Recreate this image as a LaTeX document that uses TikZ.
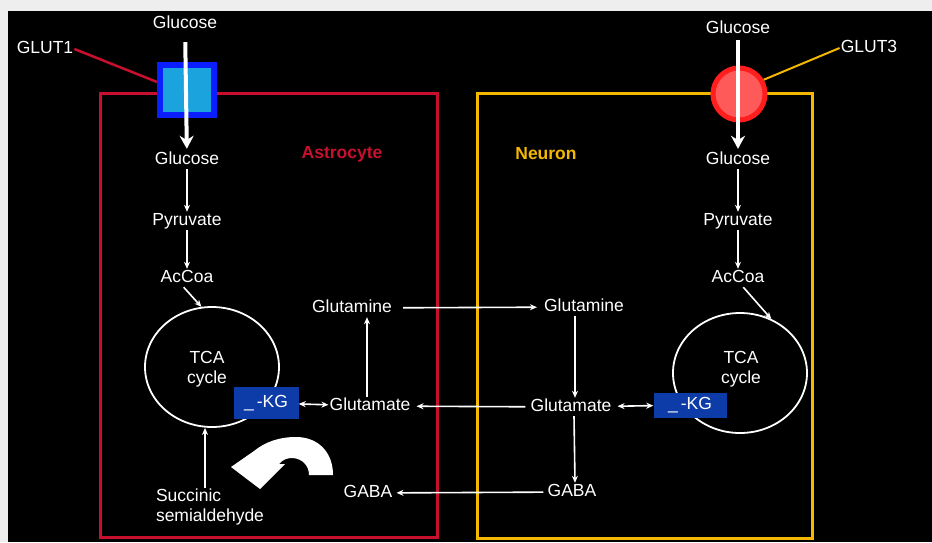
\documentclass[tikz,border=0pt]{standalone}
\usepackage{fontspec}
\setmainfont{Liberation Sans}
\usetikzlibrary{arrows.meta,shapes.geometric}
\definecolor{bggray}{HTML}{EEEEEE}
\definecolor{astro}{HTML}{C8102E}
\definecolor{neur}{HTML}{F5B800}
\definecolor{glutblue}{HTML}{0A1EFF}
\definecolor{glutcyan}{HTML}{1AA3DD}
\definecolor{glutred}{HTML}{FF1E1E}
\definecolor{glutpink}{HTML}{FF5A5A}
\definecolor{kgblue}{HTML}{0D3CA8}
\begin{document}
\begin{tikzpicture}[x=1pt,y=-1pt,
  lbl/.style={text=white,font=\fontsize{17.5}{20}\selectfont,inner sep=1pt,text height=12.5pt,text depth=3.5pt},
  cell/.style={font=\fontsize{17.5}{20}\selectfont\bfseries,inner sep=1pt},
  thinarr/.style={draw=white,line width=1.6pt,-{Stealth[length=7pt,width=6pt]}},
  dblarr/.style={draw=white,line width=1.6pt,{Stealth[length=7pt,width=6pt]}-{Stealth[length=7pt,width=6pt]}},
  bigarr/.style={draw=white,line width=4pt,-{Stealth[length=13pt,width=14pt]}},
  tca/.style={draw=white,line width=1.8pt,ellipse,inner sep=0pt,minimum width=134pt,minimum height=120pt},
  kgbox/.style={fill=kgblue,text=white,font=\fontsize{17.5}{20}\selectfont,inner sep=0pt,text height=12.5pt,text depth=3.5pt},
  membrane/.style={line width=3pt}]
\fill[bggray] (0,0) rectangle (932,542);
\fill[black] (8,11) rectangle (932,542);
\useasboundingbox (0,0) rectangle (932,542);

% cell boxes
\draw[membrane,astro] (100,93) rectangle (437,537);
\draw[membrane,neur] (477,93) rectangle (812,538);
\node[cell,text=astro] (astro) at (342,154) {Astrocyte};
\node[cell,text=neur] (neuron) at (546,154) {Neuron};

% transporters
\node[lbl] (glut1) at (45,49) {GLUT1};
\node[draw=glutblue,fill=glutcyan,line width=6pt,minimum width=54pt,minimum height=50pt,inner sep=0pt] (t1) at (187,90) {};
\draw[astro,line width=2.5pt] (glut1.east) -- (t1.165);
\node[lbl] (glut3) at (869,48) {GLUT3};
\node[circle,draw=glutred,fill=glutpink,line width=5pt,minimum size=52pt,inner sep=0pt] (t3) at (739,94) {};
\draw[neur,line width=2pt] (glut3.west) -- (t3.30);

% astrocyte pathway
\node[lbl] (gout1) at (185,24) {Glucose};
\node[lbl] (gA) at (187,160) {Glucose};
\node[lbl] (pA) at (187,221) {Pyruvate};
\node[lbl] (aA) at (187,278) {AcCoa};
\draw[bigarr,shorten <=9pt,shorten >=2pt] (gout1) -- (gA);
\draw[thinarr] (gA) -- (pA);
\draw[thinarr] (pA) -- (aA);
\node[tca] (tcaA) at (212,367) {};
\node[lbl,align=center,text height=,text depth=] (tcaAt) at (207,369) {TCA\\cycle};
\draw[thinarr] (aA.250) -- (tcaA.100);
\node[kgbox,minimum width=65pt,minimum height=32pt] (kgA) at (266,403) {\_\,-KG};
\node[lbl] (gluA) at (370,406) {Glutamate};
\node[lbl] (glnA) at (352,308) {Glutamine};
\node[lbl] (gabaA) at (368,493) {GABA};
\node[lbl,align=left,text height=,text depth=] (succ) at (210,507) {Succinic\\semialdehyde};
\draw[dblarr] (kgA) -- (gluA);
\draw[thinarr] ([xshift=-3pt]gluA.north) -- ([xshift=-3pt]gluA.north |- glnA.south);
\draw[thinarr] ([xshift=-5pt]succ.north) -- ([xshift=-7pt]tcaA.south);

% U-turn arrow
\fill[white] (333,475) .. controls (333,452) and (318,437) .. (296,437)
  .. controls (279,437) and (265,442) .. (254,451)
  -- (231,467) -- (260,489) -- (285,464) -- (279,464)
  .. controls (283,459) and (288,458) .. (293,458)
  .. controls (303,459) and (309,466) .. (309,475) -- cycle;

% neuron pathway
\node[lbl] (gout3) at (738,29) {Glucose};
\node[lbl] (gN) at (738,160) {Glucose};
\node[lbl] (pN) at (738,221) {Pyruvate};
\node[lbl] (aN) at (738,278) {AcCoa};
\draw[bigarr,shorten <=2pt,shorten >=2pt] (gout3) -- (gN);
\draw[thinarr] (gN) -- (pN);
\draw[thinarr] (pN) -- (aN);
\node[tca] (tcaN) at (740,373) {};
\node[lbl,align=center,text height=,text depth=] (tcaNt) at (741,369) {TCA\\cycle};
\draw[thinarr] (aN.300) -- (tcaN.60);
\node[kgbox,minimum width=73pt,minimum height=25pt] (kgN) at (690,405) {\_\,-KG};
\node[lbl] (glnN) at (584,307) {Glutamine};
\node[lbl] (gluN) at (571,407) {Glutamate};
\node[lbl] (gabaN) at (572,492) {GABA};
\draw[dblarr,shorten <=5pt] (gluN) -- (kgN);
\draw[thinarr] ([xshift=4pt]gluN.north |- glnN.south) -- ([xshift=4pt]gluN.north);
\draw[thinarr] ([xshift=3pt]gluN.south) -- ([xshift=3pt]gabaN.north);

% exchanges between cells
\draw[thinarr,shorten <=10pt,shorten >=6pt] (glnA) -- (glnN);
\draw[thinarr,shorten <=4pt,shorten >=5pt] (gluN) -- (gluA);
\draw[thinarr,shorten <=3pt,shorten >=3pt] (gabaN) -- (gabaA);
\end{tikzpicture}
\end{document}
